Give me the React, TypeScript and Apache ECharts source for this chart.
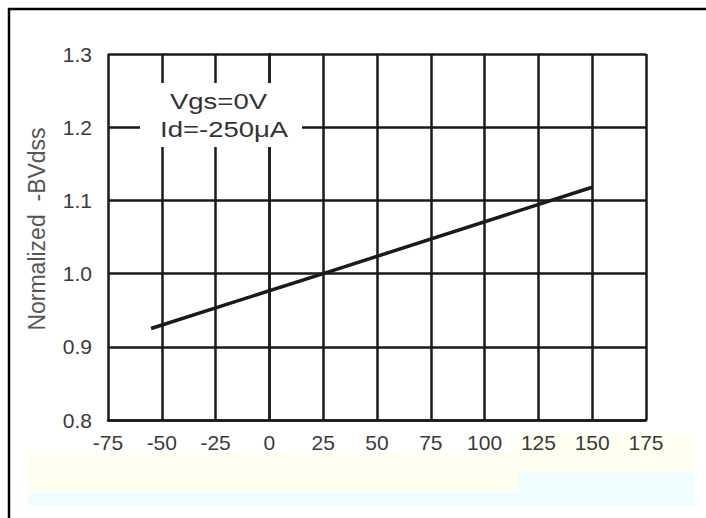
import React, { useEffect, useRef } from "react";
import * as echarts from "echarts";

const temperatures = [-55, 25, 150];
const normalizedBVdss = [0.925, 1.0, 1.118];
const xTicks = { min: -75, max: 175, step: 25 };
const yTicks = { min: 0.8, max: 1.3, step: 0.1 };
const legendLines = ["Vgs=0V", "Id=-250μA"];
const yTitle = "Normalized  -BVdss";

export default function App() {
  const ref = useRef<HTMLDivElement>(null);
  useEffect(() => {
    if (!ref.current) return;
    document.documentElement.style.overflow = "hidden";
    document.body.style.overflow = "hidden";
    const chart = echarts.init(ref.current, undefined, { renderer: "svg" });
    const font = "Liberation Sans, Arial, sans-serif";
    chart.setOption({
      animation: false,
      backgroundColor: "#ffffff",
      grid: { left: 108, right: 60, top: 54, bottom: 98 },
      xAxis: {
        type: "value",
        min: xTicks.min,
        max: xTicks.max,
        interval: xTicks.step,
        axisLine: { lineStyle: { color: "#1a1a1a", width: 2.5 } },
        axisTick: { show: false },
        splitLine: { show: true, lineStyle: { color: "#1a1a1a", width: 2.5 } },
        axisLabel: { color: "#3a3a3a", fontSize: 21, fontFamily: font, margin: 12 },
        z: 2,
      },
      yAxis: {
        type: "value",
        min: yTicks.min,
        max: yTicks.max,
        interval: yTicks.step,
        axisLine: { show: true, lineStyle: { color: "#1a1a1a", width: 2.5 } },
        axisTick: { show: false },
        splitLine: { show: true, lineStyle: { color: "#1a1a1a", width: 2.5 } },
        axisLabel: {
          color: "#3a3a3a",
          fontSize: 21,
          fontFamily: font,
          margin: 16,
          formatter: (v: number) => v.toFixed(1),
        },
        z: 2,
      },
      series: [
        {
          type: "line",
          data: temperatures.map((t, i) => [t, normalizedBVdss[i]]),
          symbol: "none",
          lineStyle: { color: "#1a1a1a", width: 3.5 },
          z: 5,
        },
      ],
      graphic: [
        {
          type: "rect",
          shape: { x: 28, y: 453, width: 490, height: 38 },
          style: { fill: "#fffff0" },
          z: -5,
        },
        {
          type: "rect",
          shape: { x: 28, y: 491, width: 490, height: 15 },
          style: { fill: "#f0feff" },
          z: -5,
        },
        {
          type: "rect",
          shape: { x: 518, y: 434, width: 177, height: 38 },
          style: { fill: "#fffff0" },
          z: -5,
        },
        {
          type: "rect",
          shape: { x: 518, y: 472, width: 177, height: 34 },
          style: { fill: "#f0feff" },
          z: -5,
        },
        {
          type: "line",
          shape: { x1: 9, y1: 8, x2: 9, y2: 518 },
          style: { stroke: "#000", lineWidth: 2.5 },
          z: 100,
        },
        {
          type: "line",
          shape: { x1: 8, y1: 9, x2: 706, y2: 9 },
          style: { stroke: "#000", lineWidth: 2.5 },
          z: 100,
        },
        {
          type: "text",
          x: 37,
          y: 229,
          rotation: Math.PI / 2,
          style: {
            text: yTitle,
            fill: "#555",
            font: `23px ${font}`,
            textAlign: "center",
            textVerticalAlign: "middle",
          },
          z: 20,
        },
        {
          type: "rect",
          shape: { x: 140, y: 83, width: 162, height: 64 },
          style: { fill: "#ffffff" },
          z: 10,
        },
        {
          type: "text",
          x: 170,
          y: 90,
          scaleX: 1.25,
          style: { text: legendLines[0], fill: "#333", font: `22px ${font}` },
          z: 11,
        },
        {
          type: "text",
          x: 160,
          y: 118,
          scaleX: 1.25,
          style: { text: legendLines[1], fill: "#333", font: `22px ${font}` },
          z: 11,
        },
      ],
    });
    return () => chart.dispose();
  }, []);
  return (
    <div
      ref={ref}
      style={{ position: "absolute", left: 0, top: 0, width: 706, height: 518 }}
    />
  );
}
